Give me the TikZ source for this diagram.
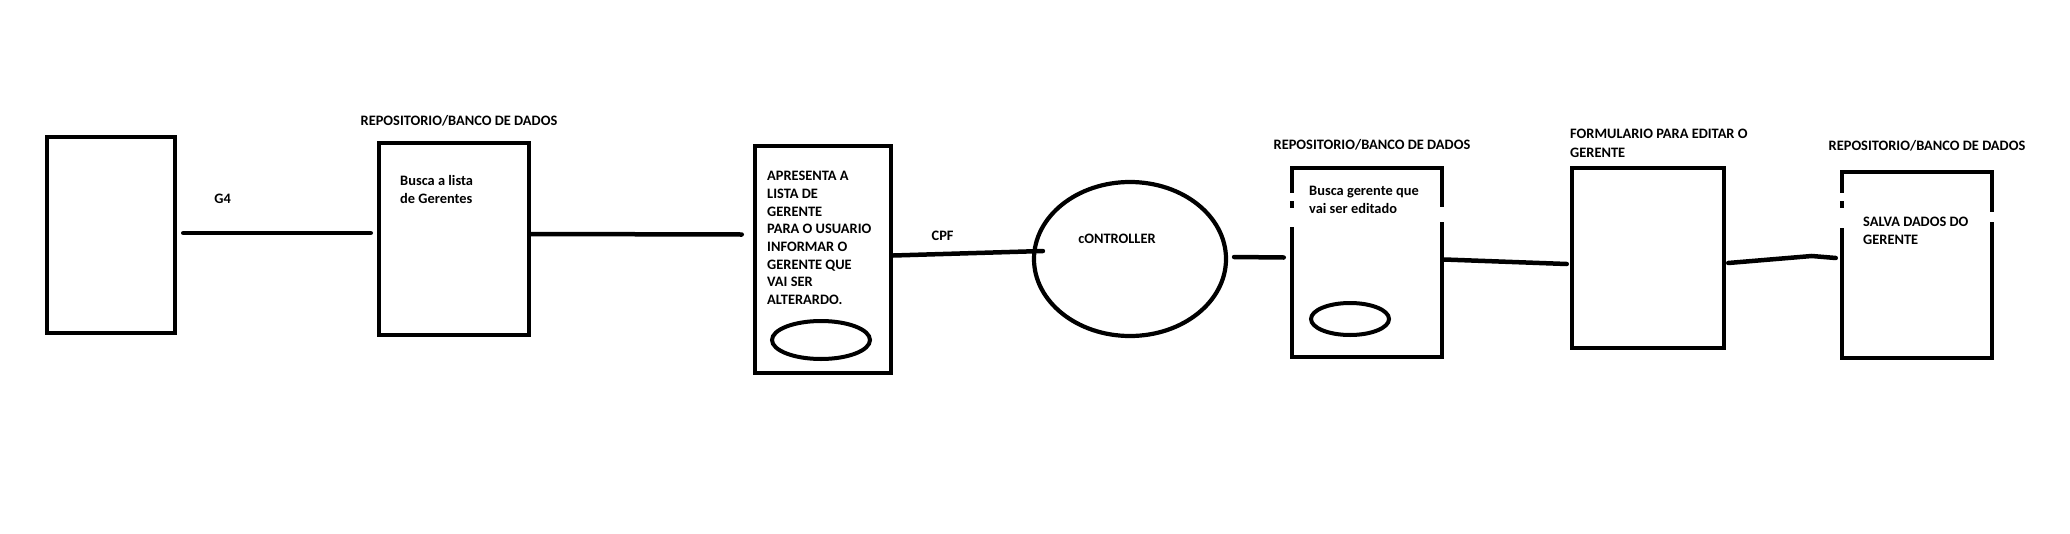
\documentclass[tikz,border=0pt]{standalone}
\usepackage{fontspec}
\setmainfont{Carlito}
\usetikzlibrary{positioning, shapes.geometric}

\begin{document}
\begin{tikzpicture}[
        x=1pt, y=-1pt,
        every node/.style={inner sep=0pt, font=\fontsize{14.4}{18}\selectfont\bfseries},
        box/.style={rectangle, draw, line width=4.5pt},
        ctrlbox/.style={ellipse, draw, line width=4.2pt, minimum width=192pt, minimum height=154pt},
        oval/.style={ellipse, draw, line width=4pt},
        txt/.style={align=left, anchor=base west},
        title/.style={anchor=base},
        link/.style={line width=4.5pt, line cap=round},
        gap/.style={fill=white}
    ]
    \useasboundingbox (0,0) rectangle (2070,533);

    % Main flow
    \node[box, minimum width=128pt, minimum height=196pt] (start) at (111,235) {};
    \node[box, minimum width=150pt, minimum height=192pt] (lista) at (454,239) {};
    \node[box, minimum width=136pt, minimum height=227pt] (tela) at (823,259.5) {};
    \node[ctrlbox] (ctrl) at (1130,259) {};
    \node[box, minimum width=150pt, minimum height=189pt] (busca) at (1367,262.5) {};
    \node[box, minimum width=152pt, minimum height=180pt] (form) at (1648,258) {};
    \node[box, minimum width=150pt, minimum height=186pt] (salva) at (1917,265) {};

    \node[oval, minimum width=98pt, minimum height=38pt] (telaoval) at (821,340) {};
    \node[oval, minimum width=78pt, minimum height=32pt] (buscaoval) at (1350,319) {};

    % Erased bits of the frames
    \fill[gap] (1285,193) rectangle (1299,201);
    \fill[gap] (1285,208) rectangle (1299,227);
    \fill[gap] (1435,207) rectangle (1449,222);
    \fill[gap] (1835,193) rectangle (1849,201);
    \fill[gap] (1835,208) rectangle (1849,228);
    \fill[gap] (1985,212) rectangle (1999,222);

    % Texts (multi-line ones sit on their last baseline)
    \node[title] (repo1) at (459,125.5) {REPOSITORIO/BANCO DE DADOS};
    \node[txt] (listatxt) at (400,203.5) {Busca a lista\\de Gerentes};
    \node[txt, font=\fontsize{14.4}{17.7}\selectfont\bfseries] (telatxt) at (767,304.5)
        {APRESENTA A\\LISTA DE\\GERENTE\\PARA O USUARIO\\INFORMAR O\\GERENTE QUE\\VAI SER\\ALTERARDO.};
    \node[title] (ctrltxt) at (1117,243.5) {cONTROLLER};
    \node[title] (repo2) at (1372,149.5) {REPOSITORIO/BANCO DE DADOS};
    \node[txt] (buscatxt) at (1309,213.5) {Busca gerente que\\vai ser editado};
    \node[txt, font=\fontsize{14.4}{19}\selectfont\bfseries] (formtxt) at (1570,157.5) {FORMULARIO PARA EDITAR O\\GERENTE};
    \node[title] (repo3) at (1927,150.5) {REPOSITORIO/BANCO DE DADOS};
    \node[txt] (salvatxt) at (1863,244.5) {SALVA DADOS DO\\GERENTE};

    % Lines
    \draw[link] ([xshift=6pt,yshift=2pt]start.east) -- node[title, pos=0.21, above=27pt] (g4) {G4} ([xshift=-6pt,yshift=6pt]lista.west);
    \draw[link] ([yshift=5pt]lista.east) -- ([xshift=-11pt,yshift=25pt]tela.west);
    \draw[link] ([yshift=4pt]tela.east) -- node[title, pos=0.33, above=11pt] (cpf) {CPF} ([xshift=11pt,yshift=8pt]ctrl.west);
    \draw[link] ([xshift=6pt,yshift=2pt]ctrl.east) -- ([xshift=-6pt,yshift=5pt]busca.west);
    \draw[link] ([yshift=3pt]busca.east) -- ([xshift=-3pt,yshift=-6pt]form.west);
    \draw[link] ([xshift=2pt,yshift=-5pt]form.east) -- ([xshift=-28pt,yshift=9pt]salva.west) -- ([xshift=-4pt,yshift=7pt]salva.west);

\end{tikzpicture}
\end{document}
